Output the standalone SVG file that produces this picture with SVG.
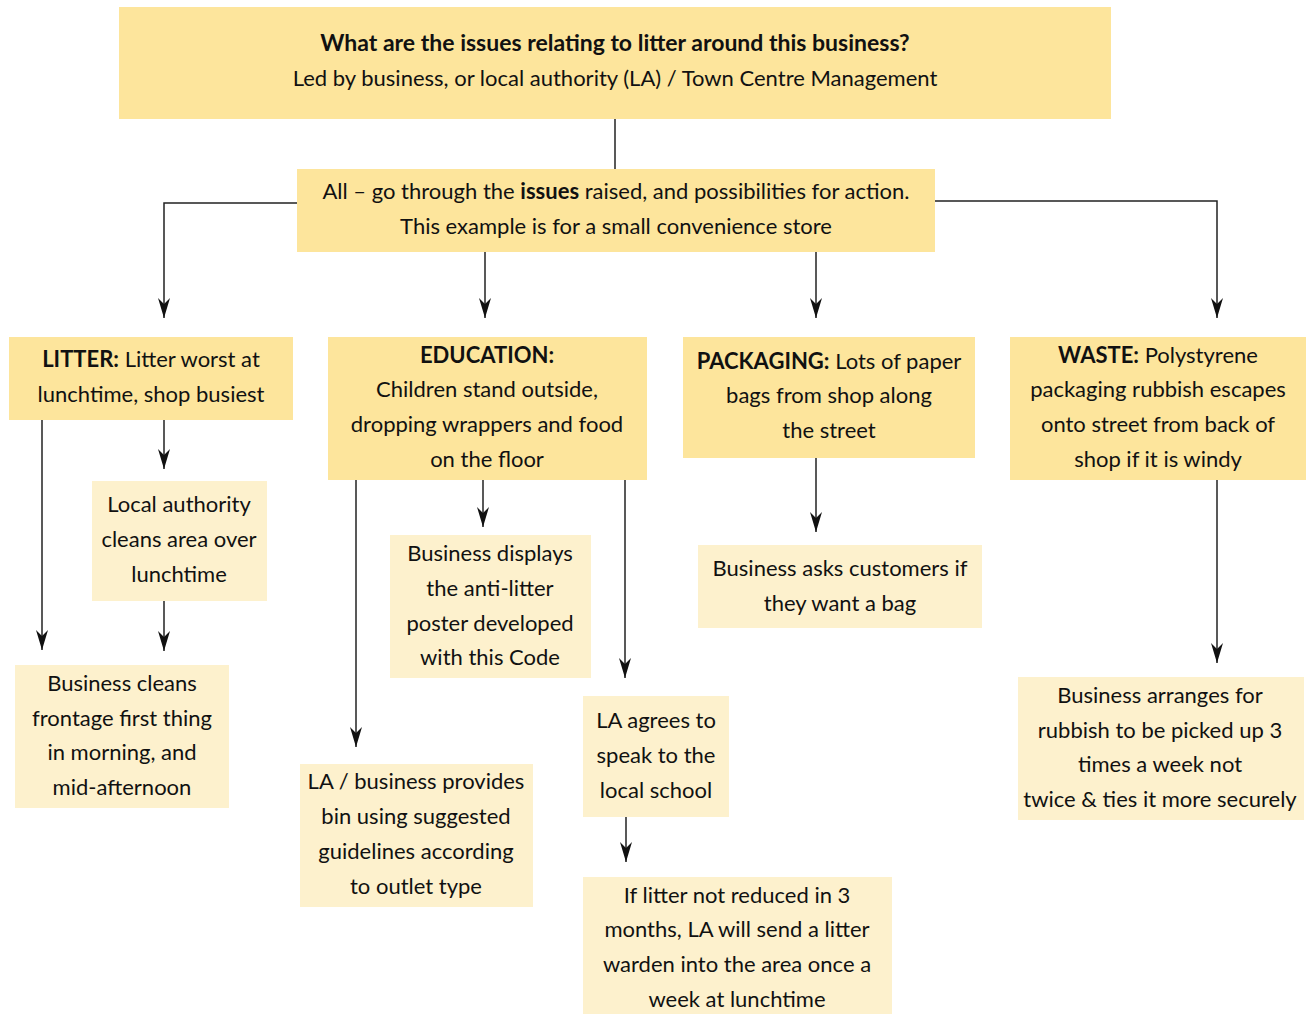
<svg xmlns="http://www.w3.org/2000/svg" width="1310" height="1015" viewBox="0 0 1310 1015">
<style>
.h{fill:#FDE59C}
.r{fill:#FDF1CD}
text{font-family:"Lato","Liberation Sans",sans-serif;font-size:22px;fill:#111;text-anchor:middle}
.b{font-weight:bold}
.t{font-size:23px}
.c{fill:none;stroke:#222;stroke-width:1.5}
</style>
<defs>
<marker id="m" viewBox="0 0 20 12" refX="20" refY="6" markerWidth="20" markerHeight="12" markerUnits="userSpaceOnUse" orient="auto">
<path d="M0,0 L20,6 L0,12 L6,6 z" fill="#111"/>
</marker>
</defs>
<g id="connectors">
<path class="c" d="M615,119 V169"/>
<path class="c" marker-end="url(#m)" d="M297,203 H164 V318"/>
<path class="c" marker-end="url(#m)" d="M935,201 H1217 V318"/>
<path class="c" marker-end="url(#m)" d="M485,252 V318"/>
<path class="c" marker-end="url(#m)" d="M816,252 V318"/>
<path class="c" marker-end="url(#m)" d="M42,420 V650"/>
<path class="c" marker-end="url(#m)" d="M164,420 V469"/>
<path class="c" marker-end="url(#m)" d="M164,601 V651"/>
<path class="c" marker-end="url(#m)" d="M356,480 V747"/>
<path class="c" marker-end="url(#m)" d="M483,480 V527"/>
<path class="c" marker-end="url(#m)" d="M625,480 V678"/>
<path class="c" marker-end="url(#m)" d="M626,817 V862"/>
<path class="c" marker-end="url(#m)" d="M816,458 V532"/>
<path class="c" marker-end="url(#m)" d="M1217,480 V663"/>
</g>
<g id="n-top">
<rect class="h" x="119" y="7" width="992" height="112"/>
<text x="615" y="51" class="b t">What are the issues relating to litter around this business?</text>
<text x="615" y="86">Led by business, or local authority (LA) / Town Centre Management</text>
</g>
<g id="n-all">
<rect class="h" x="297" y="169" width="638" height="83"/>
<text x="616" y="199">All – go through the <tspan class="b">issues</tspan> raised, and possibilities for action.</text>
<text x="616" y="234">This example is for a small convenience store</text>
</g>
<g id="n-litter">
<rect class="h" x="9" y="337" width="284" height="83"/>
<text x="151" y="367"><tspan class="b">LITTER:</tspan> Litter worst at</text>
<text x="151" y="402">lunchtime, shop busiest</text>
</g>
<g id="n-education">
<rect class="h" x="328" y="337" width="319" height="143"/>
<text x="487" y="363" class="b">EDUCATION:</text>
<text x="487" y="397">Children stand outside,</text>
<text x="487" y="432">dropping wrappers and food</text>
<text x="487" y="467">on the floor</text>
</g>
<g id="n-packaging">
<rect class="h" x="683" y="337" width="292" height="121"/>
<text x="829" y="369"><tspan class="b">PACKAGING:</tspan> Lots of paper</text>
<text x="829" y="403">bags from shop along</text>
<text x="829" y="438">the street</text>
</g>
<g id="n-waste">
<rect class="h" x="1010" y="337" width="296" height="143"/>
<text x="1158" y="363"><tspan class="b">WASTE:</tspan> Polystyrene</text>
<text x="1158" y="397">packaging rubbish escapes</text>
<text x="1158" y="432">onto street from back of</text>
<text x="1158" y="467">shop if it is windy</text>
</g>
<g id="n-la-cleans">
<rect class="r" x="92" y="481" width="175" height="120"/>
<text x="179" y="512">Local authority</text>
<text x="179" y="547">cleans area over</text>
<text x="179" y="582">lunchtime</text>
</g>
<g id="n-business-cleans">
<rect class="r" x="15" y="665" width="214" height="143"/>
<text x="122" y="691">Business cleans</text>
<text x="122" y="726">frontage first thing</text>
<text x="122" y="760">in morning, and</text>
<text x="122" y="795">mid-afternoon</text>
</g>
<g id="n-poster">
<rect class="r" x="390" y="535" width="201" height="143"/>
<text x="490" y="561">Business displays</text>
<text x="490" y="596">the anti-litter</text>
<text x="490" y="631">poster developed</text>
<text x="490" y="665">with this Code</text>
</g>
<g id="n-bin">
<rect class="r" x="300" y="764" width="233" height="143"/>
<text x="416" y="789">LA / business provides</text>
<text x="416" y="824">bin using suggested</text>
<text x="416" y="859">guidelines according</text>
<text x="416" y="894">to outlet type</text>
</g>
<g id="n-school">
<rect class="r" x="583" y="696" width="146" height="121"/>
<text x="656" y="728">LA agrees to</text>
<text x="656" y="763">speak to the</text>
<text x="656" y="798">local school</text>
</g>
<g id="n-warden">
<rect class="r" x="583" y="877" width="309" height="137"/>
<text x="737" y="903">If litter not reduced in 3</text>
<text x="737" y="937">months, LA will send a litter</text>
<text x="737" y="972">warden into the area once a</text>
<text x="737" y="1007">week at lunchtime</text>
</g>
<g id="n-bag">
<rect class="r" x="698" y="545" width="284" height="83"/>
<text x="840" y="576">Business asks customers if</text>
<text x="840" y="611">they want a bag</text>
</g>
<g id="n-rubbish">
<rect class="r" x="1018" y="677" width="286" height="143"/>
<text x="1160" y="703">Business arranges for</text>
<text x="1160" y="738">rubbish to be picked up 3</text>
<text x="1160" y="772">times a week not</text>
<text x="1160" y="807">twice &amp; ties it more securely</text>
</g>
</svg>
